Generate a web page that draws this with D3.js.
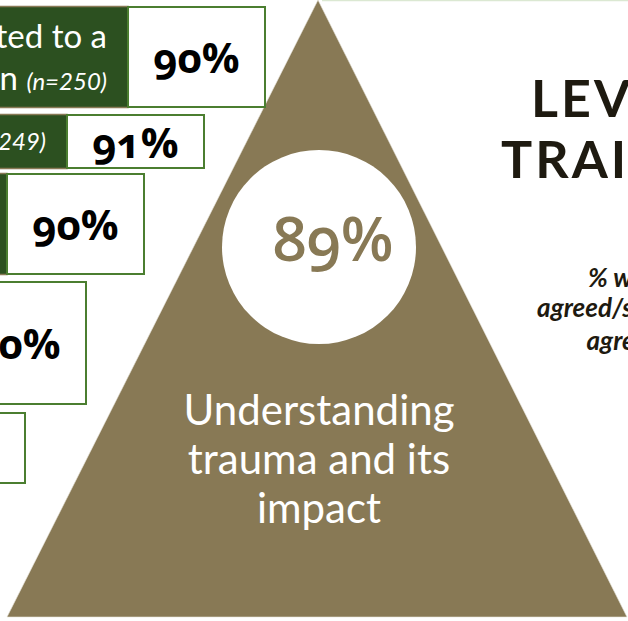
<!DOCTYPE html>
<html>
<head>
<meta charset="utf-8">
<script src="https://cdn.jsdelivr.net/npm/d3@7"></script>
<style>
  body { margin: 0; background: #fff; }
  svg { display: block; }
  text { font-family: Lato, "Open Sans", sans-serif; }
  text.num { font-family: "Open Sans", Lato, sans-serif; font-variant-numeric: oldstyle-nums; font-feature-settings: "onum" 1; }
</style>
</head>
<body>
<div id="chart"></div>
<script>
// data
var rowLabels = [["Connected to a", "organization "], ["Safe "], [], [], []];
var rowNotes = ["(n=250)", "(n=249)", "", "", ""];
var rowValues = [90, 91, 90, 90, 90];
var levelLabel = ["Understanding", "trauma and its", "impact"];
var levelValue = [89];
var titleLines = ["LEVEL 1", "TRAINING"];
var subLines = ["% who", "agreed/strongly", "agreed"];

var width = 628, height = 621;
var tan = "#887955", dark = "#2c5020", green = "#4b7e30";

// layout of the staggered boxes (left edge of white box, top, bottom)
var boxLayout = [
  {x: 128, y0: 7, y1: 107},
  {x: 67, y0: 115, y1: 168},
  {x: 7, y0: 174, y1: 274},
  {x: -51, y0: 282, y1: 404},
  {x: -112, y0: 413, y1: 483}
];
var boxW = 137;

var svg = d3.select("#chart").append("svg")
  .attr("width", width)
  .attr("height", height);

// pyramid
var px = d3.scaleLinear().domain([0, 1]).range([7, 627]);
var py = d3.scaleLinear().domain([0, 1]).range([0, 617]);
var line = d3.line().x(function(d) { return px(d[0]); }).y(function(d) { return py(d[1]); });

svg.append("line")
  .attr("x1", 322).attr("x2", width)
  .attr("y1", 0.5).attr("y2", 0.5)
  .attr("stroke", "#dbe8d2").attr("stroke-width", 1.5);

svg.append("path")
  .attr("d", line([[0.5016, 0], [0, 1], [1, 1]]) + "Z")
  .attr("fill", tan)
  .attr("stroke", "#e8e4da").attr("stroke-width", 0.6);

svg.append("circle")
  .attr("cx", 319).attr("cy", 247).attr("r", 97)
  .attr("fill", "#fff");

svg.selectAll("text.big")
  .data(levelValue)
  .enter().append("text")
  .attr("class", "big num")
  .attr("x", 333).attr("y", 261)
  .attr("text-anchor", "middle")
  .attr("font-size", 61)
  .attr("font-weight", 600)
  .attr("fill", tan)
  .text(function(d) { return d + "%"; });

svg.selectAll("text.lvl")
  .data(levelLabel)
  .enter().append("text")
  .attr("class", "lvl")
  .attr("x", 319)
  .attr("y", function(d, i) { return 425 + i * 49; })
  .attr("text-anchor", "middle")
  .attr("font-size", 42)
  .attr("fill", "#fff")
  .text(function(d) { return d; });

// boxes
var rows = svg.selectAll("g.row")
  .data(rowValues)
  .enter().append("g")
  .attr("class", "row");

rows.filter(function(d, i) { return boxLayout[i].x > 0; })
  .append("rect")
  .attr("x", -20)
  .attr("y", function(d, i) { return boxLayout[i].y0 - 0.5; })
  .attr("width", function(d, i) { return boxLayout[i].x + 20; })
  .attr("height", function(d, i) { return boxLayout[i].y1 - boxLayout[i].y0 + 1; })
  .attr("fill", dark)
  .attr("stroke", tan).attr("stroke-width", 1.5);

rows.append("rect")
  .attr("x", function(d, i) { return boxLayout[i].x; })
  .attr("y", function(d, i) { return boxLayout[i].y0; })
  .attr("width", boxW)
  .attr("height", function(d, i) { return boxLayout[i].y1 - boxLayout[i].y0; })
  .attr("fill", "#fff")
  .attr("stroke", green).attr("stroke-width", 2);

rows.append("text")
  .attr("class", "num")
  .attr("x", function(d, i) { return boxLayout[i].x + boxW / 2; })
  .attr("y", function(d, i) { return (boxLayout[i].y0 + boxLayout[i].y1) / 2 + 16; })
  .attr("text-anchor", "middle")
  .attr("font-size", 42)
  .attr("font-weight", "bold")
  .attr("fill", "#000")
  .text(function(d) { return d + "%"; });

// row labels in the dark bars
rowLabels.forEach(function(lbl, i) {
  if (!lbl.length) return;
  var ex = boxLayout[i].x - 21;
  var n = lbl.length;
  lbl.forEach(function(s, j) {
    var t = svg.append("text")
      .attr("x", ex)
      .attr("text-anchor", "end")
      .attr("fill", "#fff")
      .attr("font-size", 33);
    if (n === 1) t.attr("y", (boxLayout[i].y0 + boxLayout[i].y1) / 2 + 8);
    else t.attr("y", j === 0 ? boxLayout[i].y0 + 41 : boxLayout[i].y0 + 83);
    t.append("tspan").text(s);
    if (j === n - 1 && rowNotes[i]) {
      t.append("tspan").attr("class", "num").attr("font-style", "italic").attr("font-size", 24).text(rowNotes[i]);
    }
  });
});

// title on the right
svg.selectAll("text.title")
  .data(titleLines)
  .enter().append("text")
  .attr("class", "title")
  .attr("x", function(d, i) { return i === 0 ? 531 : 501; })
  .attr("y", function(d, i) { return 117 + i * 61; })
  .attr("font-size", 52)
  .attr("font-weight", "bold")
  .attr("letter-spacing", 3)
  .attr("fill", "#1e1a10")
  .text(function(d) { return d; });

svg.selectAll("text.sub")
  .data(subLines)
  .enter().append("text")
  .attr("class", "sub")
  .attr("x", 624)
  .attr("y", function(d, i) { return [287, 317, 350][i]; })
  .attr("text-anchor", "middle")
  .attr("font-size", 26)
  .attr("font-weight", "bold")
  .attr("font-style", "italic")
  .attr("fill", "#1e1a10")
  .text(function(d) { return d; });
</script>
</body>
</html>
